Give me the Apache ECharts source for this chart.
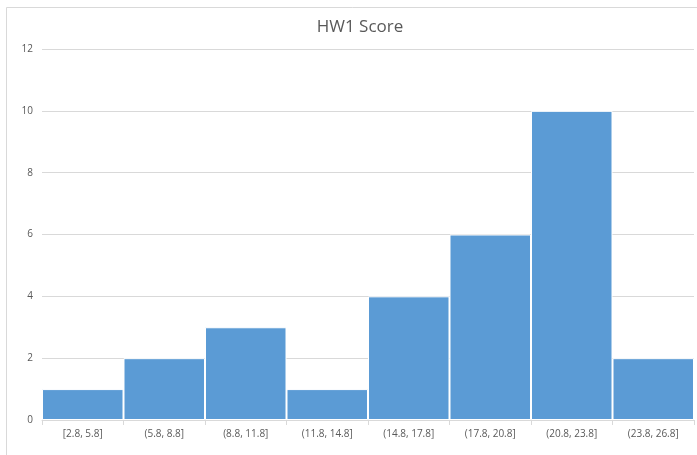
<!DOCTYPE html>
<html><head><meta charset="utf-8">
<script src="https://cdn.jsdelivr.net/npm/echarts@6/dist/echarts.min.js"></script>
<style>html,body{margin:0;padding:0;background:#fff}#c{width:697px;height:455px}</style>
</head><body><div id="c"></div>
<script>
const categories = ['[2.8, 5.8]','(5.8, 8.8]','(8.8, 11.8]','(11.8, 14.8]','(14.8, 17.8]','(17.8, 20.8]','(20.8, 23.8]','(23.8, 26.8]'];
const counts = [1, 2, 3, 1, 4, 6, 10, 2];
const yTicks = {min: 0, max: 12, interval: 2};
const chart = echarts.init(document.getElementById('c'), null, {renderer: 'canvas'});
chart.setOption({
  animation: false,
  backgroundColor: '#fff',
  textStyle: {fontFamily: 'Open Sans'},
  graphic: [{type: 'rect', shape: {x: 6.5, y: 7.5, width: 720, height: 460}, style: {fill: 'none', stroke: '#d9d9d9', lineWidth: 1}, silent: true}],
  title: {text: 'HW1 Score', left: 355, top: 14, textAlign: 'center',
    textStyle: {fontFamily: 'Open Sans', fontSize: 17, fontWeight: 'normal', color: '#595959'}},
  grid: {left: 42, right: 3, top: 49, bottom: 35, containLabel: false},
  xAxis: {type: 'category', data: categories,
    axisLine: {lineStyle: {color: '#d9d9d9'}},
    axisTick: {show: true, length: 5, lineStyle: {color: '#d9d9d9'}},
    axisLabel: {color: '#595959', fontSize: 10, margin: 9, interval: 0}},
  yAxis: {type: 'value', min: yTicks.min, max: yTicks.max, interval: yTicks.interval,
    axisLine: {show: false}, axisTick: {show: false},
    splitLine: {lineStyle: {color: '#d9d9d9'}},
    axisLabel: {color: '#595959', fontSize: 10, margin: 9}},
  series: [{type: 'bar', data: counts, barCategoryGap: '0%',
    itemStyle: {color: '#5b9bd5', borderColor: '#ffffff', borderWidth: 1}}]
});
</script></body></html>
